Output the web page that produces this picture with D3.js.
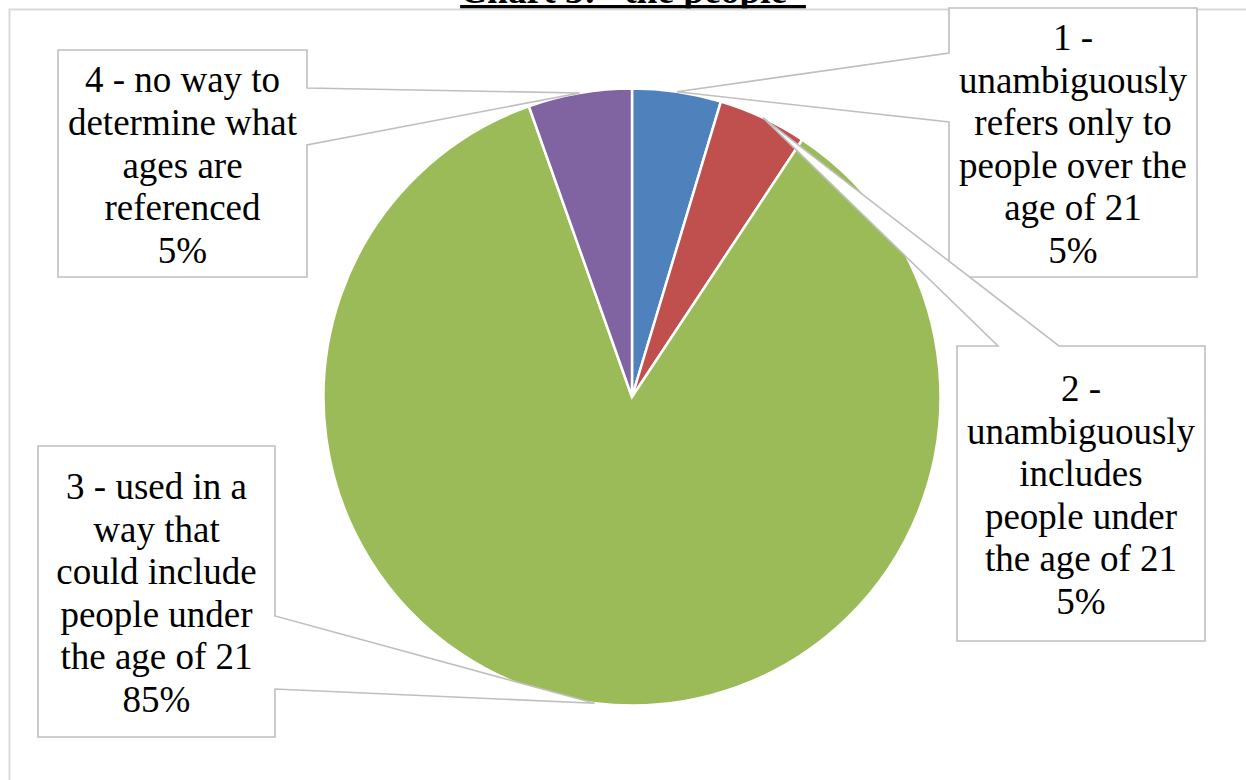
<!DOCTYPE html>
<html>
<head>
<meta charset="utf-8">
<script src="https://cdn.jsdelivr.net/npm/d3@7"></script>
<style>
  html, body { margin: 0; padding: 0; background: #fff; }
  svg { display: block; }
</style>
</head>
<body>
<script>
// chart data
var title = "Chart 3: \u201Cthe people\u201D";
var categories = [
  "1 - unambiguously refers only to people over the age of 21",
  "2 - unambiguously includes people under the age of 21",
  "3 - used in a way that could include people under the age of 21",
  "4 - no way to determine what ages are referenced"
];
var values = [6, 6, 110, 7];
var sliceColors = ["#4F81BD", "#C0504D", "#9BBB59", "#8064A2"];
// how the category text wraps inside each callout
var labelLines = [
  ["1 -", "unambiguously", "refers only to", "people over the", "age of 21"],
  ["2 -", "unambiguously", "includes", "people under", "the age of 21"],
  ["3 - used in a", "way that", "could include", "people under", "the age of 21"],
  ["4 - no way to", "determine what", "ages are", "referenced"]
];

var width = 1246,
    height = 780,
    cx = 632, cy = 397, r = 308.5,
    lineH = 42.6,
    fontSize = 37,
    serif = "Liberation Serif, Times New Roman, serif";

// callout boxes (layout only): side = edge the pointer leaves from, a/b = pointer base
var callouts = [
  { x: 949, y: 8,   w: 248, h: 269, side: "left",  a: 53,  b: 122 },
  { x: 957, y: 346, w: 248, h: 295, side: "top",   a: 998, b: 1059 },
  { x: 38,  y: 446, w: 237, h: 291, side: "right", a: 616, b: 689 },
  { x: 58,  y: 50,  w: 249, h: 227, side: "right", a: 88,  b: 145 }
];

var svg = d3.select("body").append("svg")
    .attr("width", width).attr("height", height);

// title sits above the chart area and is mostly hidden by it
var titleText = svg.append("text")
    .attr("x", 633).attr("y", 3)
    .attr("text-anchor", "middle")
    .attr("font-family", serif).attr("font-weight", "bold").attr("font-size", 42)
    .text(title);
// fit the underlined title to the width seen in the reference
var tw = titleText.node().getComputedTextLength();
titleText.attr("font-size", 42 * 346 / tw);
tw = titleText.node().getComputedTextLength();
svg.append("rect")
    .attr("x", 633 - tw / 2).attr("y", 5)
    .attr("width", tw).attr("height", 3.5)
    .attr("fill", "#000");

// chart area
svg.append("rect")
    .attr("x", 9.5).attr("y", 9.5)
    .attr("width", 1400).attr("height", 1000)
    .attr("fill", "#fff")
    .attr("stroke", "#d9d9d9").attr("stroke-width", 2);

var color = d3.scaleOrdinal().domain(categories).range(sliceColors);

var pie = d3.pie().sort(null).value(d => d.value),
    arcs = pie(categories.map((c, i) => ({ category: c, value: values[i] })));

var arc = d3.arc().innerRadius(0).outerRadius(r),
    tipArc = d3.arc().innerRadius(r).outerRadius(r);

var g = svg.append("g").attr("transform", "translate(" + cx + "," + cy + ")");
g.selectAll("path")
    .data(arcs)
    .enter().append("path")
    .attr("d", arc)
    .attr("fill", d => color(d.data.category))
    .attr("stroke", "#fff").attr("stroke-width", 2.5);

function calloutPath(c, tip) {
  var x0 = c.x, y0 = c.y, x1 = c.x + c.w, y1 = c.y + c.h, pts;
  if (c.side == "left")
    pts = [[x0, y0], [x1, y0], [x1, y1], [x0, y1], [x0, c.b], tip, [x0, c.a]];
  else if (c.side == "right")
    pts = [[x0, y0], [x1, y0], [x1, c.a], tip, [x1, c.b], [x1, y1], [x0, y1]];
  else
    pts = [[x0, y0], [c.a, y0], tip, [c.b, y0], [x1, y0], [x1, y1], [x0, y1]];
  return d3.line()(pts) + "Z";
}

var pct = d3.format(".0%"),
    total = d3.sum(values);

arcs.forEach(function(d, i) {
  var c = callouts[i],
      t = tipArc.centroid(d),
      tip = [cx + t[0], cy + t[1]],
      lines = labelLines[i].concat([pct(d.data.value / total)]),
      grp = svg.append("g").attr("class", "callout");

  grp.append("path")
      .attr("d", calloutPath(c, tip))
      .attr("fill", "#fff")
      .attr("stroke", "#bfbfbf").attr("stroke-width", 1.6)
      .attr("stroke-linejoin", "miter");

  var mid = c.y + c.h / 2 + 14;
  grp.selectAll("text")
      .data(lines)
      .enter().append("text")
      .attr("x", c.x + c.w / 2)
      .attr("y", (s, j) => mid + (j - (lines.length - 1) / 2) * lineH)
      .attr("text-anchor", "middle")
      .attr("font-family", serif).attr("font-size", fontSize)
      .attr("fill", "#000")
      .text(s => s);
});
</script>
</body>
</html>
